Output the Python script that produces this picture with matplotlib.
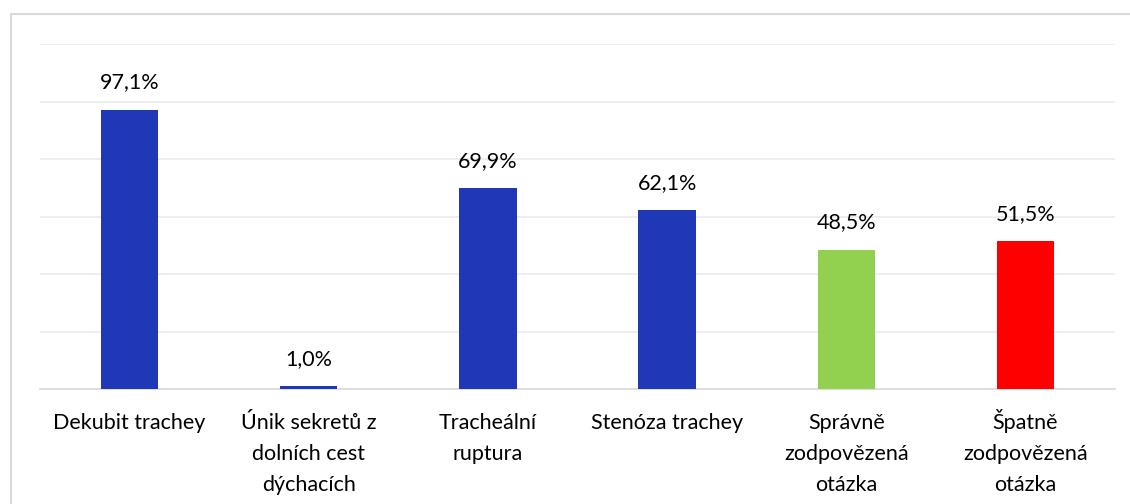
import matplotlib.pyplot as plt
from matplotlib.patches import Rectangle

categories = ["Dekubit trachey", "Únik sekretů z\ndolních cest\ndýchacích", "Tracheální\nruptura",
              "Stenóza trachey", "Správně\nzodpovězená\notázka", "Špatně\nzodpovězená\notázka"]
values = [97.1, 1.0, 69.9, 62.1, 48.5, 51.5]
colors = ["#1F38B8", "#1F38B8", "#1F38B8", "#1F38B8", "#92D050", "#FF0000"]

plt.rcParams['font.family'] = ['Lato', 'DejaVu Sans']

fig = plt.figure(figsize=(11.3, 5.04), dpi=100)
# chart frame (cropped at right and bottom)
fig.patches.append(Rectangle((11 / 1130, -0.1), 1.2, 1.1 - 14 / 504, transform=fig.transFigure,
                             fill=False, edgecolor="#D9D9D9", linewidth=1.5))
ax = fig.add_axes([40 / 1130, 1 - 389 / 504, 1075 / 1130, 345 / 504])

x = range(len(categories))
ax.bar(x, values, width=0.32, color=colors, zorder=3)
ax.set_xlim(-0.5, len(categories) - 0.5)
ax.set_ylim(0, 120)
ax.set_yticks(range(0, 121, 20))
ax.yaxis.grid(True, color="#EBEBEB", linewidth=1.2, zorder=0)
ax.tick_params(left=False, labelleft=False, bottom=False, labelbottom=False)
for s in ["top", "right", "left"]:
    ax.spines[s].set_visible(False)
ax.spines["bottom"].set_color("#D9D9D9")
ax.spines["bottom"].set_linewidth(1.2)
ax.set_xticks(list(x))

# category labels, one line at a time so every first line shares a baseline
for i, lab in enumerate(categories):
    for k, line in enumerate(lab.split("\n")):
        ax.annotate(line, xy=(i, 0), xycoords=("data", "axes fraction"),
                    xytext=(0, -29 - k * 22.3), textcoords="offset points",
                    ha="center", va="baseline", fontsize=15.5)

for i, v in enumerate(values):
    ax.text(i, v + 6, f"{v:.1f}%".replace(".", ","), ha="center", va="bottom", fontsize=15.5)

plt.savefig("out.png", dpi=100)
